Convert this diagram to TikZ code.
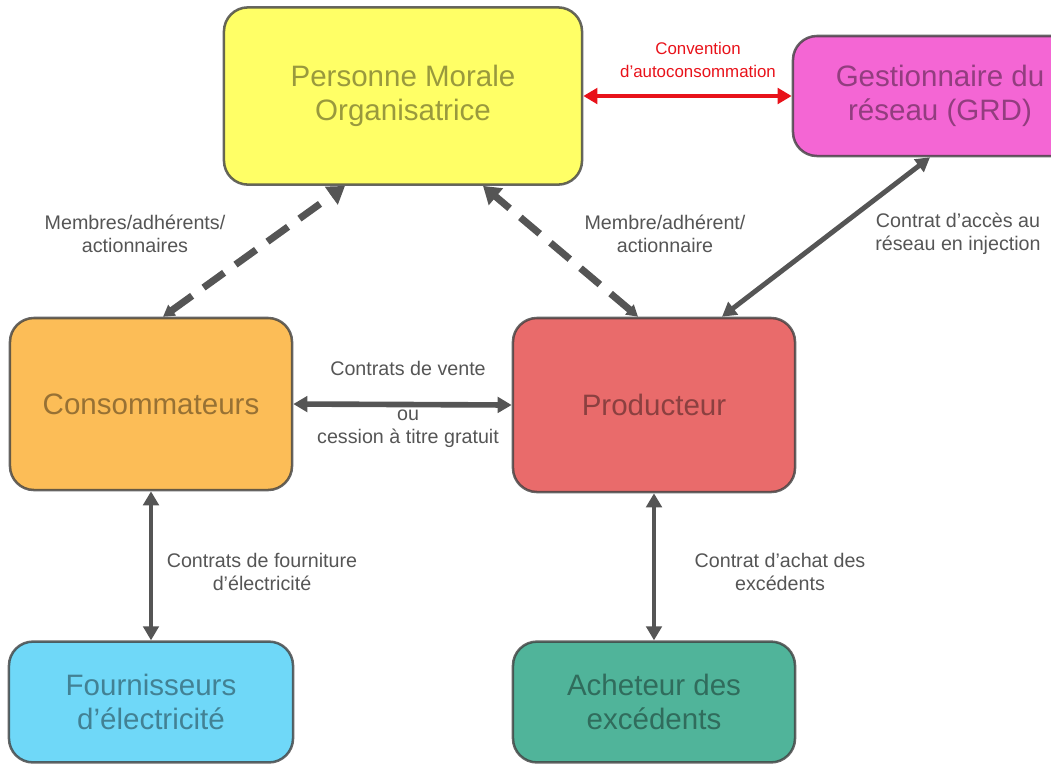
\documentclass[tikz,border=0pt]{standalone}
\usepackage{fontspec}
\setmainfont{Liberation Sans}
\usetikzlibrary{arrows.meta}

\definecolor{pmoyellow}{HTML}{FFFF66}
\definecolor{grdpink}{HTML}{F466D4}
\definecolor{consorange}{HTML}{FCBD57}
\definecolor{prodred}{HTML}{E96B6B}
\definecolor{fourblue}{HTML}{6FD8F8}
\definecolor{achteal}{HTML}{50B49A}
\definecolor{linkgray}{HTML}{555555}
\definecolor{convred}{HTML}{E8121A}

\tikzset{%
  every box/.style={
    rectangle,
    rounded corners=0.6cm,
    draw=black!75,
    draw opacity=0.8,
    line width=1.8pt,
    align=center,
    text=black,
    text opacity=0.4,
    font=\fontsize{21}{24}\selectfont
  },
  box pmo/.style={fill=pmoyellow, minimum width=8.95cm, minimum height=4.43cm},
  box grd/.style={fill=grdpink, minimum width=7.35cm, minimum height=3cm},
  box cons/.style={fill=consorange, minimum width=7.05cm, minimum height=4.3cm},
  box prod/.style={fill=prodred, minimum width=7.05cm, minimum height=4.35cm},
  box four/.style={fill=fourblue, minimum width=7.1cm, minimum height=3.02cm},
  box ach/.style={fill=achteal, minimum width=7.05cm, minimum height=3.02cm},
  link/.style={
    draw=linkgray,
    line width=3.5pt,
    {Triangle[length=10pt,width=11pt]}-{Triangle[length=10pt,width=11pt]}
  },
  member link/.style={
    draw=linkgray,
    line width=5pt,
    dash pattern=on 18pt off 10pt,
    {Triangle[length=8pt,width=9pt]}-{Triangle[length=12pt,width=15pt]}
  },
  link label/.style={
    align=center,
    text=linkgray,
    font=\fontsize{14}{16.5}\selectfont
  },
}

\begin{document}
\begin{tikzpicture}[x=0.025cm, y=-0.025cm]
\useasboundingbox (0,0) rectangle (1051,765);
\clip (0,0) rectangle (1051,765);

\foreach \m/\p/\t in {pmo/{403,96}/{Personne Morale\\Organisatrice},
    grd/{940,96}/{Gestionnaire du\\réseau (GRD)},
    cons/{151,404}/Consommateurs, prod/{654,405}/Producteur,
    four/{151,702}/{Fournisseurs\\d'électricité},
    ach/{654,702}/{Acheteur des\\excédents}}
  \node [every box/.try, box \m/.try] (\m) at (\p) {\t};

% labels
\node [link label, text=convred, font=\fontsize{12}{16}\selectfont] (conv) at (698,60)
  {Convention\\d'autoconsommation};
\node [link label] (members) at (135,234) {Membres/adhérents/\\actionnaires};
\node [link label] (member) at (665,234) {Membre/adhérent/\\actionnaire};
\node [link label] (access) at (958,234) {Contrat d'accès au\\réseau en injection};
\node [link label] (sale) at (408,368) {Contrats de vente};
\node [link label] (free) at (408,429) {ou\\cession à titre gratuit};
\node [link label] (supply) at (262,572) {Contrats de fourniture\\d'électricité};
\node [link label] (surplus) at (780,572) {Contrat d'achat des\\excédents};

% connectors
\draw [link, draw=convred] (pmo.east) -- (grd.west);
\draw [member link] ([xshift=0.3cm]cons.north) -- ([xshift=-1.45cm]pmo.south);
\draw [member link] ([xshift=-0.4cm]prod.north) -- ([xshift=2cm]pmo.south);
\draw [link] ([xshift=1.7cm]prod.north) -- ([xshift=-0.25cm]grd.south);
\draw [link, line width=4pt] (cons.east) -- (prod.west);
\draw [link] (cons.south) -- (four.north);
\draw [link] (prod.south) -- (ach.north);

\end{tikzpicture}
\end{document}
